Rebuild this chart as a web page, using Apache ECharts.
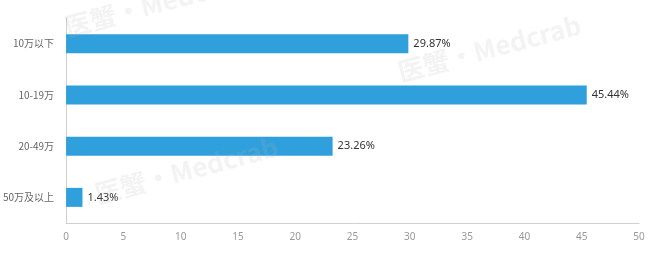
<!DOCTYPE html>
<html><head><meta charset="utf-8">
<script src="https://cdn.jsdelivr.net/npm/echarts@6/dist/echarts.min.js"></script>
<style>html,body{margin:0;padding:0;background:#fff}#c{width:669px;height:256px}</style>
</head><body><div id="c"></div>
<script>
const categories = ['10万以下', '10-19万', '20-49万', '50万及以上'];
const values = [29.87, 45.44, 23.26, 1.43];
const xTicks = [0, 50, 5];

const chart = echarts.init(document.getElementById('c'));
const wm = (x, y) => ({
  type: 'text', x: x, y: y, rotation: 0.26, z: 10, silent: true,
  style: { text: '医蟹·Medcrab', fill: 'rgba(180,180,180,0.16)', font: 'bold 26px "Noto Sans CJK SC", sans-serif' }
});
chart.setOption({
  animation: false,
  grid: { left: 65, right: 30, top: 18, bottom: 33 },
  xAxis: {
    type: 'value', min: xTicks[0], max: xTicks[1], interval: xTicks[2],
    axisLine: { show: true, lineStyle: { color: '#d0d0d0' } },
    axisTick: { show: false },
    splitLine: { show: false },
    axisLabel: { color: '#999', fontSize: 10, margin: 9, fontFamily: 'Noto Sans' }
  },
  yAxis: {
    type: 'category', data: categories, inverse: true,
    axisLine: { lineStyle: { color: '#d0d0d0' } },
    axisTick: { length: 5, lineStyle: { color: '#d0d0d0' } },
    axisLabel: { color: '#666', fontSize: 10, margin: 12, fontFamily: '"Noto Sans CJK SC", sans-serif' }
  },
  series: [{
    type: 'bar', data: values, barWidth: 19,
    itemStyle: { color: '#2fa0db' },
    label: { show: true, position: 'right', distance: 5, color: '#333', fontSize: 11,
      fontFamily: 'Noto Sans', formatter: p => p.value.toFixed(2) + '%' }
  }],
  graphic: [wm(62, 15), wm(395, 60), wm(92, 182)]
});
</script></body></html>
